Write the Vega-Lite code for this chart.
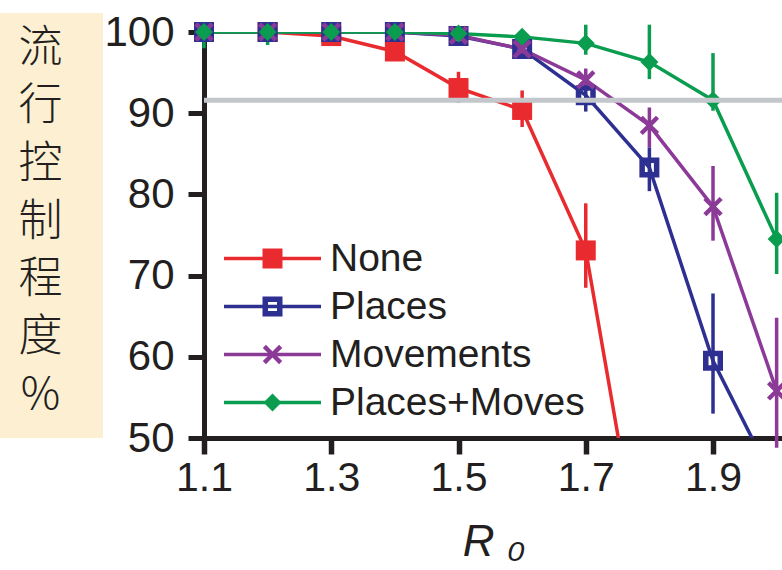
{
  "$schema": "https://vega.github.io/schema/vega-lite/v6.json",
  "padding": {"left": 0, "top": 11, "right": 0, "bottom": 0},
  "background": "white",
  "spacing": 0,
  "config": {"view": {"stroke": null}, "font": "Liberation Sans"},
  "resolve": {"legend": {"color": "independent", "shape": "independent", "stroke": "independent"}},
  "hconcat": [
    {
      "width": 103,
      "height": 425,
      "view": {"fill": "#fcefd2", "stroke": null},
      "data": {"values": [
        {"c": "流", "i": 1}, {"c": "行", "i": 2}, {"c": "控", "i": 3}, {"c": "制", "i": 4},
        {"c": "程", "i": 5}, {"c": "度", "i": 6}, {"c": "%", "i": 7}
      ]},
      "mark": {"type": "text", "font": "Noto Sans CJK SC", "fontSize": 44, "fontWeight": 300, "color": "#231f20", "dx": -11, "dy": -3},
      "encoding": {
        "y": {"field": "i", "type": "ordinal", "axis": null, "scale": {"type": "band", "paddingInner": 0, "paddingOuter": 0.18}},
        "text": {"field": "c"}
      }
    },
    {
      "bounds": "flush",
      "spacing": 0,
      "resolve": {"legend": {"color": "independent", "shape": "independent", "stroke": "independent"}},
      "vconcat": [
        {
          "width": 579,
          "height": 19,
          "data": {"values": [{"t": ""}]},
          "mark": {"type": "text"},
          "encoding": {"text": {"field": "t"}}
        },
        {
          "width": 579,
          "height": 406,
          "data": {"values": [
            {"R0": 1.1, "series": "None", "v": 100},
            {"R0": 1.2, "series": "None", "v": 100},
            {"R0": 1.3, "series": "None", "v": 99.5},
            {"R0": 1.4, "series": "None", "v": 97.6, "lo": 97.0, "hi": 98.2},
            {"R0": 1.5, "series": "None", "v": 93.1, "lo": 91.3, "hi": 95.1},
            {"R0": 1.6, "series": "None", "v": 90.4, "lo": 88.3, "hi": 92.8},
            {"R0": 1.7, "series": "None", "v": 73.1, "lo": 68.5, "hi": 78.9},
            {"R0": 1.8, "series": "None", "v": 28},
            {"R0": 1.9, "series": "None", "v": 15},
            {"R0": 2.0, "series": "None", "v": 8},
            {"R0": 1.1, "series": "Places", "v": 100},
            {"R0": 1.2, "series": "Places", "v": 100},
            {"R0": 1.3, "series": "Places", "v": 100},
            {"R0": 1.4, "series": "Places", "v": 100},
            {"R0": 1.5, "series": "Places", "v": 99.5},
            {"R0": 1.6, "series": "Places", "v": 97.9},
            {"R0": 1.7, "series": "Places", "v": 92.2, "lo": 90.2, "hi": 93.7},
            {"R0": 1.8, "series": "Places", "v": 83.3, "lo": 80.4, "hi": 85.8},
            {"R0": 1.9, "series": "Places", "v": 59.5, "lo": 53.0, "hi": 67.8},
            {"R0": 2.0, "series": "Places", "v": 44},
            {"R0": 1.1, "series": "Movements", "v": 100},
            {"R0": 1.2, "series": "Movements", "v": 100},
            {"R0": 1.3, "series": "Movements", "v": 100},
            {"R0": 1.4, "series": "Movements", "v": 100},
            {"R0": 1.5, "series": "Movements", "v": 99.6},
            {"R0": 1.6, "series": "Movements", "v": 97.9, "lo": 97.0, "hi": 98.8},
            {"R0": 1.7, "series": "Movements", "v": 94.1, "lo": 92.8, "hi": 95.5},
            {"R0": 1.8, "series": "Movements", "v": 88.5, "lo": 85.8, "hi": 90.7},
            {"R0": 1.9, "series": "Movements", "v": 78.5, "lo": 74.3, "hi": 83.5},
            {"R0": 2.0, "series": "Movements", "v": 55.8, "lo": 48.8, "hi": 64.8},
            {"R0": 1.1, "series": "Places+Moves", "v": 100, "lo": 98.0, "hi": 100},
            {"R0": 1.2, "series": "Places+Moves", "v": 100, "lo": 98.4, "hi": 100},
            {"R0": 1.3, "series": "Places+Moves", "v": 100},
            {"R0": 1.4, "series": "Places+Moves", "v": 100},
            {"R0": 1.5, "series": "Places+Moves", "v": 99.8},
            {"R0": 1.6, "series": "Places+Moves", "v": 99.4, "lo": 98.6, "hi": 100.2},
            {"R0": 1.7, "series": "Places+Moves", "v": 98.6, "lo": 97.2, "hi": 100.9},
            {"R0": 1.8, "series": "Places+Moves", "v": 96.3, "lo": 94.2, "hi": 100.9},
            {"R0": 1.9, "series": "Places+Moves", "v": 91.6, "lo": 90.3, "hi": 97.4},
            {"R0": 2.0, "series": "Places+Moves", "v": 74.5, "lo": 70.2, "hi": 80.2}
          ]},
          "layer": [
            {
              "mark": {"type": "line", "clip": true, "strokeWidth": 3.5},
              "encoding": {
                "x": {
                  "field": "R0", "type": "quantitative",
                  "scale": {"domain": [1.1, 2.01], "nice": false, "zero": false},
                  "axis": {
                    "values": [1.1, 1.3, 1.5, 1.7, 1.9], "format": ".1f",
                    "title": "R ₀", "titleFontStyle": "italic", "titleFontSize": 44, "titleFont": "Liberation Sans",
                    "titleFontWeight": "normal", "titleColor": "#231f20", "titlePadding": 22,
                    "labelFontSize": 41, "labelFont": "Liberation Sans", "labelColor": "#231f20", "labelPadding": 4,
                    "labelFlush": false, "labelOverlap": false,
                    "tickSize": 16, "tickWidth": 5.5, "tickColor": "#231f20",
                    "domainColor": "#231f20", "domainWidth": 5, "grid": false
                  }
                },
                "y": {"field": "v", "type": "quantitative", "scale": {"domain": [50, 100], "nice": false, "zero": false},
                  "axis": {
                    "values": [50, 60, 70, 80, 90, 100], "title": null,
                    "labelFontSize": 42, "labelFont": "Liberation Sans", "labelColor": "#231f20", "labelPadding": 14,
                    "tickSize": 16, "tickWidth": 5, "tickColor": "#231f20",
                    "domainColor": "#231f20", "domainWidth": 5, "grid": false
                  }},
                "stroke": {"field": "series", "type": "nominal",
                  "sort": ["None", "Places", "Movements", "Places+Moves"],
                  "scale": {"range": ["#e92a2f", "#2e3091", "#8c3a97", "#0a9d4f"]},
                  "legend": {
                    "title": null, "orient": "none", "legendX": 49, "legendY": 207,
                    "symbolType": "M-4.85,0H4.85", "symbolSize": 400, "symbolStrokeWidth": 3.5,
                    "labelExpr": "''", "labelFontSize": 39, "labelFont": "Liberation Sans",
                    "labelOffset": 38, "rowPadding": 8, "padding": 0
                  }}
              }
            },
            {
              "transform": [{"filter": "datum.lo != null"}],
              "mark": {"type": "rule", "strokeWidth": 3.5},
              "encoding": {
                "x": {"field": "R0", "type": "quantitative"},
                "y": {"field": "lo", "type": "quantitative"},
                "y2": {"field": "hi"},
                "color": {"field": "series", "type": "nominal"}
              }
            },
            {
              "transform": [{"filter": "datum.v >= 50"}],
              "mark": {"type": "point", "filled": true, "size": 400, "opacity": 1},
              "encoding": {
                "x": {"field": "R0", "type": "quantitative"},
                "y": {"field": "v", "type": "quantitative"},
                "color": {"field": "series", "type": "nominal",
                  "scale": {"domain": ["None", "Places", "Movements", "Places+Moves"], "range": ["#e92a2f", "#2e3091", "#8c3a97", "#0a9d4f"]},
                  "legend": {
                    "title": null, "orient": "none", "legendX": 49, "legendY": 207,
                    "symbolSize": 400, "symbolOpacity": 1, "symbolStrokeWidth": 0,
                    "labelFontSize": 39, "labelFont": "Liberation Sans", "labelColor": "#231f20",
                    "labelOffset": 38, "rowPadding": 8, "padding": 0, "labelLimit": 600
                  }},
                "shape": {"field": "series", "type": "nominal",
                  "scale": {"domain": ["None", "Places", "Movements", "Places+Moves"],
                    "range": ["square", "M-1,-1H1V1H-1ZM-0.45,-0.45V0.45H0.45V-0.45Z", "M0.658,-0.969L0.969,-0.658L0.311,0L0.969,0.658L0.658,0.969L0,0.311L-0.658,0.969L-0.969,0.658L-0.311,0L-0.969,-0.658L-0.658,-0.969L0,-0.311Z", "M-0.9,0L0,-0.9L0.9,0L0,0.9Z"]}}
              }
            },
            {
              "data": {"values": [{"ref": 91.6}]},
              "mark": {"type": "rule", "color": "#c3c7cb", "strokeWidth": 5},
              "encoding": {"y": {"field": "ref", "type": "quantitative"}}
            }
          ]
        }
      ]
    }
  ]
}
